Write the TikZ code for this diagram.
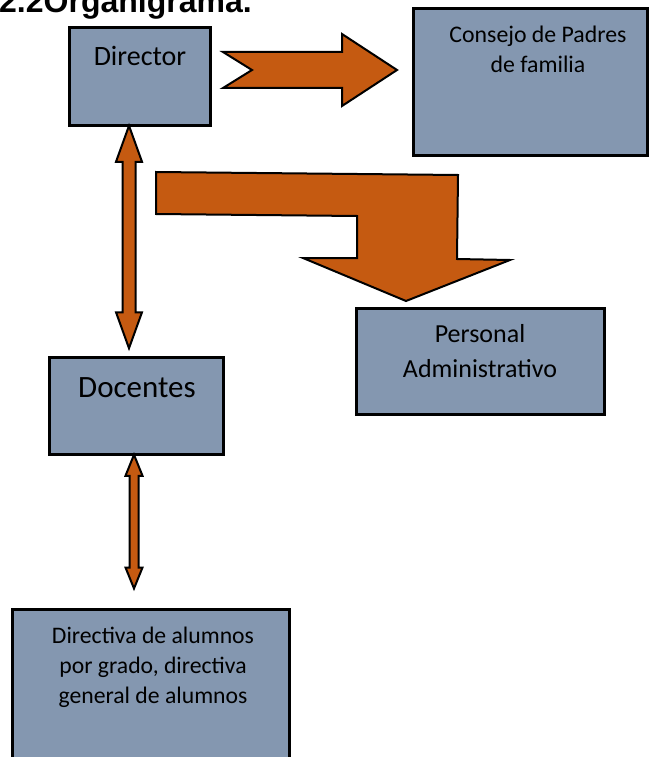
\documentclass[tikz,border=0pt]{standalone}
\usepackage{fontspec}
\setmainfont{Carlito}
\newfontfamily\titlefont{Liberation Sans}
\usetikzlibrary{calc}
\definecolor{boxfill}{HTML}{8497B0}
\definecolor{arrfill}{HTML}{C55A11}
\newcommand\vdblarrow[5]{% #1 top tip, #2 bottom tip, #3 half shaft, #4 half head, #5 head length
  \draw[blockarrow] let \p1=(#1), \p2=(#2) in
    (\x1,\y1) -- ({\x1+#4pt},{\y1-#5pt}) -- ({\x1+#3pt},{\y1-#5pt})
    -- ({\x2+#3pt},{\y2+#5pt}) -- ({\x2+#4pt},{\y2+#5pt}) -- (\x2,\y2)
    -- ({\x2-#4pt},{\y2+#5pt}) -- ({\x2-#3pt},{\y2+#5pt})
    -- ({\x1-#3pt},{\y1-#5pt}) -- ({\x1-#4pt},{\y1-#5pt}) -- cycle;}
\begin{document}
\begin{tikzpicture}[x=1pt,y=-1pt,
  box/.style={draw=black, fill=boxfill, line width=2.7pt, inner sep=0pt, outer sep=0pt},
  lbl/.style={anchor=base, align=center, inner sep=0pt},
  blockarrow/.style={draw=black, fill=arrfill, line width=2pt, line join=miter}]
\useasboundingbox (0,0) rectangle (650,757);
\clip (0,0) rectangle (650,757);
% title
\node[anchor=base west, inner sep=0pt, font=\titlefont\bfseries\fontsize{32}{38}\selectfont] (title) at (-1,13) {2.2Organigrama.};
% boxes
\node[box, minimum width=141.5pt, minimum height=98.5pt] (dir) at (140,76.5) {};
\node[box, minimum width=234.5pt, minimum height=147.5pt] (cons) at (530.5,82) {};
\node[box, minimum width=248.5pt, minimum height=106.5pt] (pers) at (480.5,361.5) {};
\node[box, minimum width=174.5pt, minimum height=97.5pt] (doc) at (136.5,406) {};
\node[box, minimum width=277.5pt, minimum height=169pt] (bot) at (151,694) {};
% texts (anchor base = baseline of the last line)
\node[lbl, font=\fontsize{28}{34}\selectfont] (dirT) at (140,66) {Director};
\node[lbl, font=\fontsize{23.8}{30}\selectfont] (consT) at (538,73) {Consejo de Padres\\de familia};
\node[lbl, font=\fontsize{26}{35}\selectfont] (persT) at (480,377) {Personal\\Administrativo};
\node[lbl, font=\fontsize{31}{37}\selectfont] (docT) at (137,397) {Docentes};
\node[lbl, font=\fontsize{23.7}{30}\selectfont] (botT) at (153,703) {Directiva de alumnos\\por grado, directiva\\general de alumnos};
% chevron arrow Director -> Consejo
\draw[blockarrow] (223,52) -- (342,52) -- (342,34) -- (397,70) -- (342,106) -- (342,88) -- (223,88) -- (252,70) -- cycle;
% bent arrow Director -> Personal
\draw[blockarrow] (156,172) -- (458,175) -- (457,259) -- (510,260) -- (406,301) -- (303,258) -- (357,258) -- (357,216) -- (156,214) -- cycle;
% double arrows
\coordinate (a1t) at ($(dir.south)+(-11,0)$);
\coordinate (a1b) at ($(doc.north)+(-7.5,-9)$);
\coordinate (a2t) at ($(doc.south)+(-2.5,0)$);
\coordinate (a2b) at ($(bot.north)+(-17,-21)$);
\vdblarrow{a1t}{a1b}{6.5}{13}{36}
\vdblarrow{a2t}{a2b}{4.5}{8.5}{21}
\end{tikzpicture}
\end{document}
